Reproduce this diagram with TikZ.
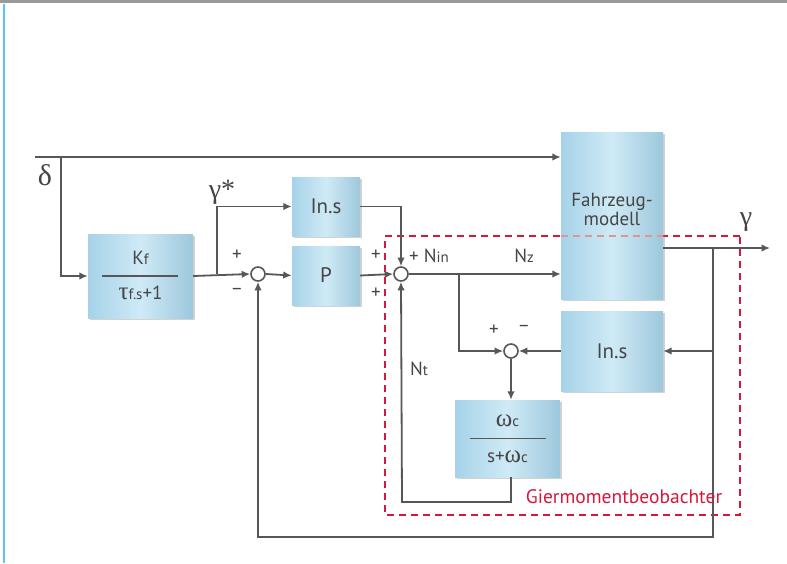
\documentclass[tikz,border=0pt]{standalone}
\usepackage{fontspec}
\setmainfont{PT Sans}
\newfontfamily\gr{Liberation Serif}
\usetikzlibrary{arrows.meta,shadows,calc}
\definecolor{ln}{HTML}{575757}
\definecolor{tx}{HTML}{454545}
\definecolor{rd}{HTML}{D8173C}
\definecolor{bl}{HTML}{A6D2E8}
\definecolor{bm}{HTML}{CFEAF6}
\definecolor{edge}{HTML}{5BC6EE}
\newcommand{\blkfont}{\fontsize{21}{24}\selectfont}
\newcommand{\labfont}{\fontsize{19}{22}\selectfont}
\newcommand{\sgnfont}{\fontsize{19}{20}\selectfont}
\newcommand{\sbs}[1]{{\fontsize{15}{16}\selectfont #1}}
\tikzset{
  blk/.style={rectangle, draw=none, left color=bl, right color=bl!95!black, middle color=bm,
     drop shadow={shadow xshift=2pt, shadow yshift=-2pt, opacity=.35}, inner sep=0pt,
     text=tx, align=center},
  sumc/.style={circle, draw=ln, line width=1.6pt, fill=white, minimum size=14pt, inner sep=0pt},
  wire/.style={draw=ln, line width=1.8pt},
  arr/.style={wire, -{Latex[length=8.5pt,width=7.5pt]}},
  lab/.style={text=tx, inner sep=0pt},
  frac/.style={draw=ln, line width=1.4pt},
  obs/.style={draw=rd, line width=2pt, dash pattern=on 7pt off 5pt}
}
\begin{document}
\begin{tikzpicture}[x=1pt,y=-1pt]
\useasboundingbox (0,0) rectangle (787,563);
% screenshot frame edges
\fill[white] (0,0) rectangle (787,563);
\draw[edge, line width=2.5pt] (4,4) -- (4,563);
\draw[black!40, line width=3pt] (0,1.5) -- (787,1.5);
% observer region
\draw[obs] (740,236) -- (385,236) -- (385,515) -- (740,515) -- cycle;
% blocks
\node[blk, minimum width=105pt, minimum height=84pt] (kf) at (140.5,276) {};
\node[blk, minimum width=68pt, minimum height=59pt] (ins1) at (326,206.5) {\blkfont In.s};
\node[blk, minimum width=68pt, minimum height=59pt] (p) at (326,275.5) {\blkfont P};
\node[blk, minimum width=102pt, minimum height=167pt] (fz) at (612,215.5) {};
\node[blk, minimum width=102pt, minimum height=80pt] (ins2) at (612,351) {\blkfont In.s};
\node[blk, minimum width=105pt, minimum height=77pt] (wc) at (507.5,438.5) {};
% block contents
\node[lab] (kfn) at (140.5,258) {\labfont K\sbs{f}};
\node[lab] (kfd) at (140.5,293) {\labfont{\gr\fontsize{25}{25}\selectfont τ}\sbs{f.s}+1};
\draw[frac] ([xshift=14pt]kf.west) -- ([xshift=-15pt]kf.east);
\node[lab] (wcn) at (507.5,421) {\labfont{\gr\fontsize{25}{25}\selectfont ω}\sbs{c}};
\node[lab] (wcd) at (507.5,457) {\labfont s+{\gr\fontsize{25}{25}\selectfont ω}\sbs{c}};
\draw[frac] ([xshift=15pt]wc.west) -- ([xshift=-14pt]wc.east);
\node[lab, align=center] (fzt) at (612,209.5) {\fontsize{19}{25}\selectfont Fahrzeug-\\\fontsize{19}{25}\selectfont modell};
\draw[obs, draw=rd!45!brown!60!white] (fz.west |- 0,236) -- (fz.east |- 0,236);
% summing points
\node[sumc] (s1) at (258,274) {};
\node[sumc] (s2) at (401,274) {};
\node[sumc] (s3) at (511,351) {};
% coordinates
\coordinate (d0) at (35,157);
\coordinate (d1) at (61,157);
\coordinate (b1) at (217,274);
\coordinate (b2) at (459,274);
\coordinate (yo) at (770,248);
\coordinate (b3) at (713,248);
\coordinate (fb) at (713,537);
\coordinate (lp) at (402,502);
% connectors
\draw[arr] (d0) -- (fz.west |- d0);
\draw[arr] (d1) |- (kf.west);
\draw[arr] (kf.east) -- (s1.west);
\draw[arr] (b1) |- (ins1.west);
\draw[arr] (s1.east) -- (p.west);
\draw[arr] (p.east) -- (s2.west);
\draw[arr] (ins1.east) -| (s2.north);
\draw[arr] (s2.east) -- (fz.west |- s2);
\draw[arr] (b2) |- (s3.west);
\draw[arr] (ins2.west) -- (s3.east);
\draw[arr] (s3.south) -- (s3.south |- wc.north);
\draw[arr] (s3.south |- wc.south) |- (lp) -- (s2.south);
\draw[arr] (fz.east |- yo) -- (yo);
\draw[arr] (b3) -- (fb) -| (s1.south);
\draw[arr] (b3 |- ins2) -- (ins2.east);
% labels
\node[lab] (dl) at (45,175) {\gr\fontsize{30}{30}\selectfont δ};
\node[lab] (gs) at (222,192) {\gr\fontsize{28}{28}\selectfont γ*};
\node[lab] (gl) at (746,222) {\gr\fontsize{28}{28}\selectfont γ};
\node[lab] (p1) at (237,255) {\sgnfont +};
\node[lab] (m1) at (237,292) {\sgnfont −};
\node[lab] (p2) at (376,255) {\sgnfont +};
\node[lab] (p3) at (376,293) {\sgnfont +};
\node[lab, anchor=west] (nin) at (409,256) {\labfont + N\sbs{in}};
\node[lab] (nz) at (524,256) {\labfont N\sbs{z}};
\node[lab] (nt) at (419,369) {\labfont N\sbs{t}};
\node[lab] (p4) at (494,330) {\sgnfont +};
\node[lab] (m4) at (524,329) {\sgnfont −};
\node[lab, text=rd] (gb) at (624,497) {\fontsize{19.5}{20}\selectfont Giermomentbeobachter};
\end{tikzpicture}
\end{document}
